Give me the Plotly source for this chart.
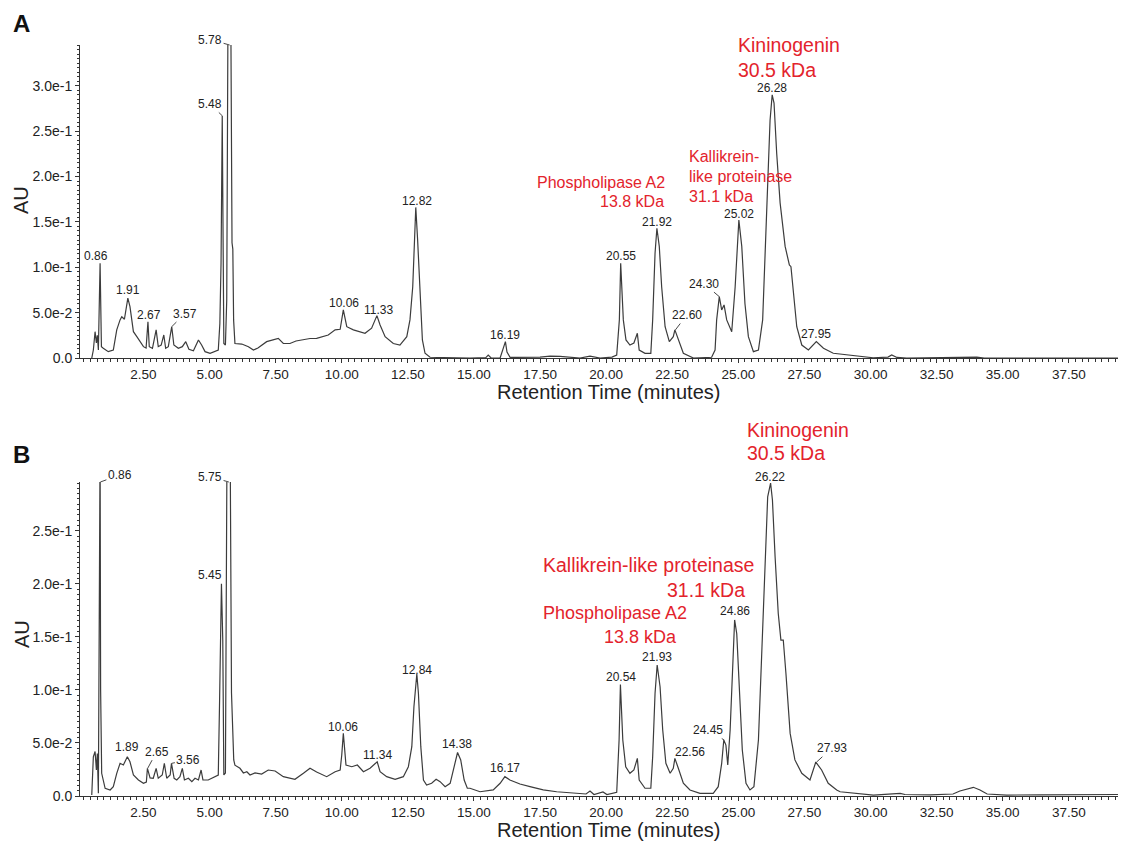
import plotly.graph_objects as go

# ---------------- data ----------------
# Panel A chromatogram: retention time (min) and absorbance (AU)
A_time = [0.545, 0.605, 0.67, 0.72, 0.755, 0.795, 0.86, 0.91, 0.98, 1.17, 1.36, 1.49, 1.615, 1.68, 1.78,
          1.87, 1.91, 1.99, 2.06, 2.12, 2.25, 2.37, 2.50, 2.60, 2.67, 2.72, 2.84, 2.98, 3.06, 3.17, 3.27,
          3.34, 3.44, 3.57, 3.65, 3.82, 3.97, 4.10, 4.22, 4.39, 4.58, 4.70, 4.83, 5.02, 5.21, 5.33, 5.39,
          5.435, 5.48, 5.51, 5.54, 5.60, 5.65, 5.70, 5.80, 5.85, 5.88, 5.91, 5.93, 5.96, 6.22, 6.47, 6.66,
          6.83, 7.16, 7.41, 7.60, 7.79, 8.04, 8.27, 8.55, 8.80, 9.05, 9.25, 9.49, 9.75, 9.94, 10.06, 10.19,
          10.44, 10.65, 10.88, 11.13, 11.33, 11.45, 11.64, 11.95, 12.20, 12.46, 12.58, 12.685, 12.80, 12.87,
          12.96, 13.05, 13.15, 13.34, 14.85, 15.45, 15.54, 15.65, 15.99, 16.10, 16.19, 16.25, 16.37, 17.50,
          17.88, 18.26, 19.01, 19.39, 19.77, 20.22, 20.40, 20.50, 20.55, 20.65, 20.75, 20.90, 21.05, 21.18,
          21.25, 21.47, 21.69, 21.76, 21.85, 21.92, 22.01, 22.10, 22.23, 22.39, 22.54, 22.60, 22.73, 22.92,
          23.30, 23.74, 23.99, 24.12, 24.18, 24.28, 24.37, 24.46, 24.56, 24.75, 24.88, 25.02, 25.13, 25.25,
          25.38, 25.57, 25.76, 25.92, 26.07, 26.20, 26.28, 26.35, 26.45, 26.58, 26.77, 26.93, 26.99, 27.08,
          27.21, 27.40, 27.65, 27.95, 28.22, 28.59, 29.22, 30.10, 30.66, 30.80, 31.00, 31.37, 34.02, 34.30,
          39.36]
A_au = [0.0, 0.0088, 0.029, 0.0165, 0.025, 0.0088, 0.1045, 0.0125, 0.0107, 0.007, 0.0088, 0.031, 0.042,
        0.0455, 0.0427, 0.0566, 0.066, 0.0566, 0.038, 0.029, 0.0235, 0.018, 0.0125, 0.011, 0.040, 0.0125,
        0.0107, 0.031, 0.0125, 0.0143, 0.0254, 0.0107, 0.0125, 0.0345, 0.0143, 0.0107, 0.0125, 0.018,
        0.0096, 0.008, 0.0199, 0.0143, 0.007, 0.0052, 0.007, 0.0088, 0.038, 0.105, 0.267, 0.14, 0.016,
        0.0143, 0.064, 0.40, 0.40, 0.127, 0.120, 0.042, 0.0199, 0.016, 0.0154, 0.0125, 0.0088, 0.011, 0.018,
        0.0206, 0.0217, 0.016, 0.016, 0.0187, 0.0206, 0.0215, 0.0217, 0.0237, 0.0254, 0.031, 0.0317, 0.053,
        0.0345, 0.031, 0.0292, 0.0272, 0.0328, 0.0467, 0.0364, 0.0235, 0.016, 0.0143, 0.0235, 0.042, 0.0786,
        0.166, 0.130, 0.0676, 0.0199, 0.0052, 0.0008, 0.0, 0.0005, 0.0033, 0.0, 0.0, 0.0088, 0.018, 0.0066,
        0.0006, 0.001, 0.002, 0.0017, 0.0, 0.002, 0.0, 0.001, 0.0033, 0.042, 0.1045, 0.042, 0.0199, 0.0143,
        0.0165, 0.0272, 0.0088, 0.0052, 0.0052, 0.042, 0.1155, 0.143, 0.123, 0.0786, 0.0345, 0.018, 0.0235,
        0.031, 0.0199, 0.0052, 0.0, 0.0006, 0.0008, 0.0088, 0.042, 0.0676, 0.053, 0.0585, 0.042, 0.029,
        0.0786, 0.152, 0.123, 0.060, 0.0235, 0.007, 0.0088, 0.042, 0.152, 0.262, 0.290, 0.281, 0.226, 0.171,
        0.123, 0.1026, 0.1007, 0.071, 0.0345, 0.0143, 0.0088, 0.018, 0.0107, 0.0052, 0.0033, 0.0003, 0.001,
        0.0033, 0.0006, 0.0, 0.0009, 0.0, 0.0]

# Panel B chromatogram
B_time = [0.545, 0.605, 0.67, 0.72, 0.755, 0.795, 0.86, 0.88, 0.92, 1.05, 1.24, 1.36, 1.49, 1.615, 1.74,
          1.89, 1.99, 2.12, 2.31, 2.50, 2.61, 2.65, 2.75, 2.87, 2.98, 3.06, 3.21, 3.29, 3.38, 3.51, 3.56,
          3.66, 3.76, 3.88, 3.97, 4.05, 4.20, 4.33, 4.45, 4.58, 4.68, 4.75, 4.95, 5.21, 5.33, 5.38, 5.42,
          5.45, 5.50, 5.54, 5.60, 5.66, 5.78, 5.83, 5.915, 5.96, 6.15, 6.28, 6.41, 6.53, 6.72, 6.97, 7.22,
          7.48, 7.79, 8.23, 8.55, 8.80, 9.05, 9.43, 9.75, 9.94, 10.00, 10.06, 10.16, 10.38, 10.59, 10.82,
          11.07, 11.34, 11.45, 11.70, 12.02, 12.33, 12.52, 12.65, 12.73, 12.84, 12.90, 12.99, 13.09, 13.21,
          13.40, 13.57, 13.72, 13.91, 14.10, 14.25, 14.38, 14.50, 14.63, 14.75, 14.85, 15.23, 15.73, 15.99,
          16.17, 16.36, 16.74, 17.12, 17.62, 18.13, 18.63, 19.24, 19.39, 19.54, 19.88, 20.03, 20.40, 20.49,
          20.54, 20.63, 20.74, 20.90, 21.05, 21.18, 21.25, 21.47, 21.69, 21.76, 21.85, 21.93, 22.04, 22.14,
          22.26, 22.42, 22.54, 22.60, 22.73, 22.92, 23.17, 23.55, 24.05, 24.24, 24.37, 24.45, 24.53, 24.60,
          24.69, 24.77, 24.86, 24.94, 25.04, 25.15, 25.29, 25.44, 25.59, 25.76, 25.88, 26.01, 26.11, 26.22,
          26.29, 26.39, 26.51, 26.61, 26.70, 26.80, 26.96, 27.14, 27.40, 27.71, 27.93, 28.15, 28.40, 28.72,
          28.85, 30.11, 30.93, 31.12, 31.30, 32.25, 33.12, 33.38, 33.89, 34.14, 34.41, 35.15, 36.41, 37.55,
          39.36]
B_au = [0.001, 0.037, 0.042, 0.0245, 0.040, 0.0025, 0.33, 0.10, 0.0214, 0.0073, 0.0057, 0.0088, 0.0214,
        0.0308, 0.0292, 0.037, 0.0323, 0.0198, 0.0151, 0.012, 0.0132, 0.0261, 0.017, 0.0167, 0.0261, 0.0167,
        0.0198, 0.0308, 0.0167, 0.0198, 0.0308, 0.0167, 0.0151, 0.0182, 0.0261, 0.0151, 0.0167, 0.0135,
        0.0167, 0.0151, 0.0245, 0.0151, 0.0151, 0.0182, 0.0198, 0.0905, 0.147, 0.20, 0.147, 0.0198, 0.0217,
        0.33, 0.33, 0.097, 0.034, 0.029, 0.0261, 0.0217, 0.0229, 0.0198, 0.0217, 0.0207, 0.0245, 0.0236,
        0.0182, 0.0157, 0.0214, 0.0261, 0.0226, 0.0182, 0.0229, 0.0245, 0.0387, 0.059, 0.0292, 0.0276,
        0.0292, 0.0229, 0.0261, 0.0323, 0.0229, 0.0182, 0.0157, 0.0182, 0.0276, 0.0465, 0.0842, 0.115,
        0.0968, 0.0465, 0.0151, 0.0104, 0.012, 0.0157, 0.0135, 0.0088, 0.012, 0.0276, 0.041, 0.034, 0.0151,
        0.0073, 0.0073, 0.004, 0.0057, 0.012, 0.0182, 0.0151, 0.0113, 0.0088, 0.0057, 0.004, 0.0031, 0.0019,
        0.0047, 0.0014, 0.0038, 0.0014, 0.0035, 0.0528, 0.105, 0.0528, 0.0276, 0.0214, 0.0245, 0.0355,
        0.0151, 0.0073, 0.0073, 0.037, 0.0968, 0.1235, 0.103, 0.0622, 0.0308, 0.0214, 0.0261, 0.0355, 0.0261,
        0.012, 0.0057, 0.0025, 0.0025, 0.0088, 0.0308, 0.0528, 0.048, 0.0292, 0.0622, 0.1157, 0.166, 0.153,
        0.10, 0.0434, 0.012, 0.0057, 0.0088, 0.0528, 0.131, 0.2257, 0.282, 0.295, 0.279, 0.2257, 0.172,
        0.147, 0.147, 0.1157, 0.059, 0.034, 0.0214, 0.0151, 0.032, 0.0245, 0.012, 0.0057, 0.004, 0.0009,
        0.0019, 0.0025, 0.0014, 0.001, 0.0019, 0.0047, 0.0082, 0.0057, 0.0019, 0.0009, 0.001, 0.0014, 0.0014]

# Peak labels (retention-time text) and where they sit
A_labels = ["0.86", "1.91", "2.67", "3.57", "5.48", "5.78", "10.06", "11.33", "12.82", "16.19",
            "20.55", "21.92", "22.60", "24.30", "25.02", "26.28", "27.95"]
A_label_t = [0.70, 1.91, 2.71, 4.07, 5.02, 5.02, 10.09, 11.38, 12.84, 16.18,
             20.56, 21.94, 23.05, 23.70, 25.01, 26.29, 27.94]
A_label_au = [0.1125, 0.075, 0.0474, 0.049, 0.280, 0.351, 0.061, 0.053, 0.173, 0.0254,
              0.1125, 0.150, 0.0474, 0.082, 0.159, 0.298, 0.026]
A_leaders = {"3.57": (3.57, 0.0345), "5.48": (5.48, 0.267), "5.78": (5.76, 0.345),
             "22.60": (22.62, 0.031), "24.30": (24.28, 0.0676)}

B_labels = ["0.86", "1.89", "2.65", "3.56", "5.45", "5.75", "10.06", "11.34", "12.84", "14.38",
            "16.17", "20.54", "21.93", "22.56", "24.45", "24.86", "26.22", "27.93"]
B_label_t = [1.61, 1.87, 3.00, 4.20, 5.02, 5.02, 10.06, 11.35, 12.84, 14.37,
             16.18, 20.55, 21.94, 23.17, 23.87, 24.88, 26.20, 28.53]
B_label_au = [0.3027, 0.046, 0.0418, 0.034, 0.208, 0.301, 0.0648, 0.0387, 0.119, 0.049,
              0.026, 0.112, 0.131, 0.0418, 0.0622, 0.174, 0.301, 0.045]
B_leaders = {"0.86": (0.87, 0.296), "2.65": (2.66, 0.0261), "3.56": (3.57, 0.0308),
             "5.45": (5.46, 0.20), "5.75": (5.73, 0.296), "22.56": (22.62, 0.0355),
             "24.45": (24.46, 0.0528), "27.93": (27.96, 0.032)}

x_tickvals = [2.5, 5.0, 7.5, 10.0, 12.5, 15.0, 17.5, 20.0, 22.5, 25.0, 27.5, 30.0, 32.5, 35.0, 37.5]
x_ticktext = ["2.50", "5.00", "7.50", "10.00", "12.50", "15.00", "17.50", "20.00", "22.50",
              "25.00", "27.50", "30.00", "32.50", "35.00", "37.50"]
yA_tickvals = [0.0, 0.05, 0.10, 0.15, 0.20, 0.25, 0.30]
yA_ticktext = ["0.0", "5.0e-2", "1.0e-1", "1.5e-1", "2.0e-1", "2.5e-1", "3.0e-1"]
yB_tickvals = [0.0, 0.05, 0.10, 0.15, 0.20, 0.25]
yB_ticktext = ["0.0", "5.0e-2", "1.0e-1", "1.5e-1", "2.0e-1", "2.5e-1"]

# ---------------- figure ----------------
FONT = "Liberation Sans, Arial, Helvetica, sans-serif"
INK = "#333333"
RED = "#e3232c"
W, H = 1122, 842
ML, MR, MT, MB = 80, 4, 45, 46
PW, PH = W - ML - MR, H - MT - MB
YA_TOP, YB_TOP = 0.345, 0.296
A_BASE, B_BASE, B_TOPPX = 358, H - MB, 482


def paper(px, py):
    return (px - ML) / PW, (H - MB - py) / PH


fig = go.Figure()
fig.add_trace(go.Scatter(x=A_time, y=A_au, mode="lines", xaxis="x", yaxis="y",
                         line=dict(color="#3c3c3c", width=1.2), showlegend=False, hoverinfo="skip"))
fig.add_trace(go.Scatter(x=B_time, y=B_au, mode="lines", xaxis="x2", yaxis="y2",
                         line=dict(color="#3c3c3c", width=1.2), showlegend=False, hoverinfo="skip"))

xcommon = dict(range=[0.10, 39.36], tickmode="array", tickvals=x_tickvals, ticktext=x_ticktext,
               showgrid=False, zeroline=False, showline=True, linecolor=INK, linewidth=1,
               ticks="outside", ticklen=4, tickcolor=INK, tickwidth=1,
               tickfont=dict(family=FONT, size=13.5, color="#222"),
               minor=dict(tickmode="linear", tick0=0, dtick=0.25, ticks="outside", ticklen=2.5,
                          tickcolor=INK, showgrid=False))
ycommon = dict(tickmode="array", showgrid=False, zeroline=False, showline=True, linecolor=INK,
               linewidth=1, ticks="outside", ticklen=4, tickcolor=INK, tickwidth=1,
               tickfont=dict(family=FONT, size=14, color="#222"),
               minor=dict(tickmode="linear", tick0=0, dtick=0.005, ticks="outside", ticklen=2.5,
                          tickcolor=INK, showgrid=False))

fig.update_layout(
    width=W, height=H, autosize=False,
    margin=dict(l=ML, r=MR, t=MT, b=MB),
    paper_bgcolor="white", plot_bgcolor="white",
    font=dict(family=FONT, color="#222"),
    xaxis=dict(anchor="y", domain=[0, 1], **xcommon),
    yaxis=dict(anchor="x", domain=[paper(0, A_BASE)[1], 1], range=[0, YA_TOP],
               tickvals=yA_tickvals, ticktext=yA_ticktext, **ycommon),
    xaxis2=dict(anchor="y2", domain=[0, 1], **xcommon),
    yaxis2=dict(anchor="x2", domain=[0, paper(0, B_TOPPX)[1]], range=[0, YB_TOP],
                tickvals=yB_tickvals, ticktext=yB_ticktext, **ycommon),
)

ann = []


def add_peak_labels(labels, ts, aus, leaders, xr, yr, ytop, px_per_unit):
    for txt, t, a in zip(labels, ts, aus):
        font = dict(family=FONT, size=12, color="#222")
        if txt in leaders:
            tt, ta = leaders[txt]
            ann.append(dict(x=tt, y=ta, xref=xr, yref=yr, ax=t, ay=a, axref=xr, ayref=yr,
                            text=txt, showarrow=True, arrowhead=0, arrowwidth=0.9,
                            arrowcolor=INK, standoff=0, startstandoff=0, font=font))
        else:
            shift = 0
            if a > ytop:  # keep labels sitting above the axis top visible
                shift = (a - ytop) * px_per_unit
                a = ytop
            ann.append(dict(x=t, y=a, xref=xr, yref=yr, text=txt, showarrow=False,
                            xanchor="center", yanchor="middle", yshift=shift, font=font))


add_peak_labels(A_labels, A_label_t, A_label_au, A_leaders, "x", "y", YA_TOP, (A_BASE - 45) / YA_TOP)
add_peak_labels(B_labels, B_label_t, B_label_au, B_leaders, "x2", "y2", YB_TOP, (B_BASE - B_TOPPX) / YB_TOP)


def text_px(txt, px, py, size, color="#222", xanchor="center", bold=False, angle=0):
    xp, yp = paper(px, py)
    ann.append(dict(x=xp, y=yp, xref="paper", yref="paper", text=("<b>%s</b>" % txt) if bold else txt,
                    showarrow=False, xanchor=xanchor, yanchor="middle", textangle=angle,
                    font=dict(family=FONT, size=size, color=color)))


# panel letters, axis titles
text_px("A", 21, 23.5, 24, "#111", bold=True)
text_px("B", 21, 454, 24, "#111", bold=True)
text_px("AU", 21, 200, 20, "#222", angle=-90)
text_px("AU", 22, 634, 20, "#222", angle=-90)
text_px("Retention Time (minutes)", 608, 392, 20)
text_px("Retention Time (minutes)", 608, 830, 20)

# red protein annotations, panel A
text_px("Phospholipase A2", 667, 182.7, 16, RED, xanchor="right")
text_px("13.8 kDa", 666, 201.7, 16, RED, xanchor="right")
text_px("Kallikrein-", 687, 156, 16, RED, xanchor="left")
text_px("like proteinase", 687, 176.7, 16, RED, xanchor="left")
text_px("31.1 kDa", 687, 196.7, 16, RED, xanchor="left")
text_px("Kininogenin", 736, 45, 19.5, RED, xanchor="left")
text_px("30.5 kDa", 736, 70, 19.5, RED, xanchor="left")

# red protein annotations, panel B
text_px("Kininogenin", 745, 430, 19.5, RED, xanchor="left")
text_px("30.5 kDa", 745, 453.3, 19.5, RED, xanchor="left")
text_px("Kallikrein-like proteinase", 756, 565, 19.5, RED, xanchor="right")
text_px("31.1 kDa", 747, 590, 19.5, RED, xanchor="right")
text_px("Phospholipase A2", 689, 613.3, 18, RED, xanchor="right")
text_px("13.8 kDa", 679, 636.7, 18, RED, xanchor="right")

fig.update_layout(annotations=ann)
# the page's default 8px body margin would push the figure off the 1122x842 window
fig.write_html("out.html", config={"displayModeBar": False, "staticPlot": True},
               post_script="document.body.style.margin='0';document.body.style.overflow='hidden';")
